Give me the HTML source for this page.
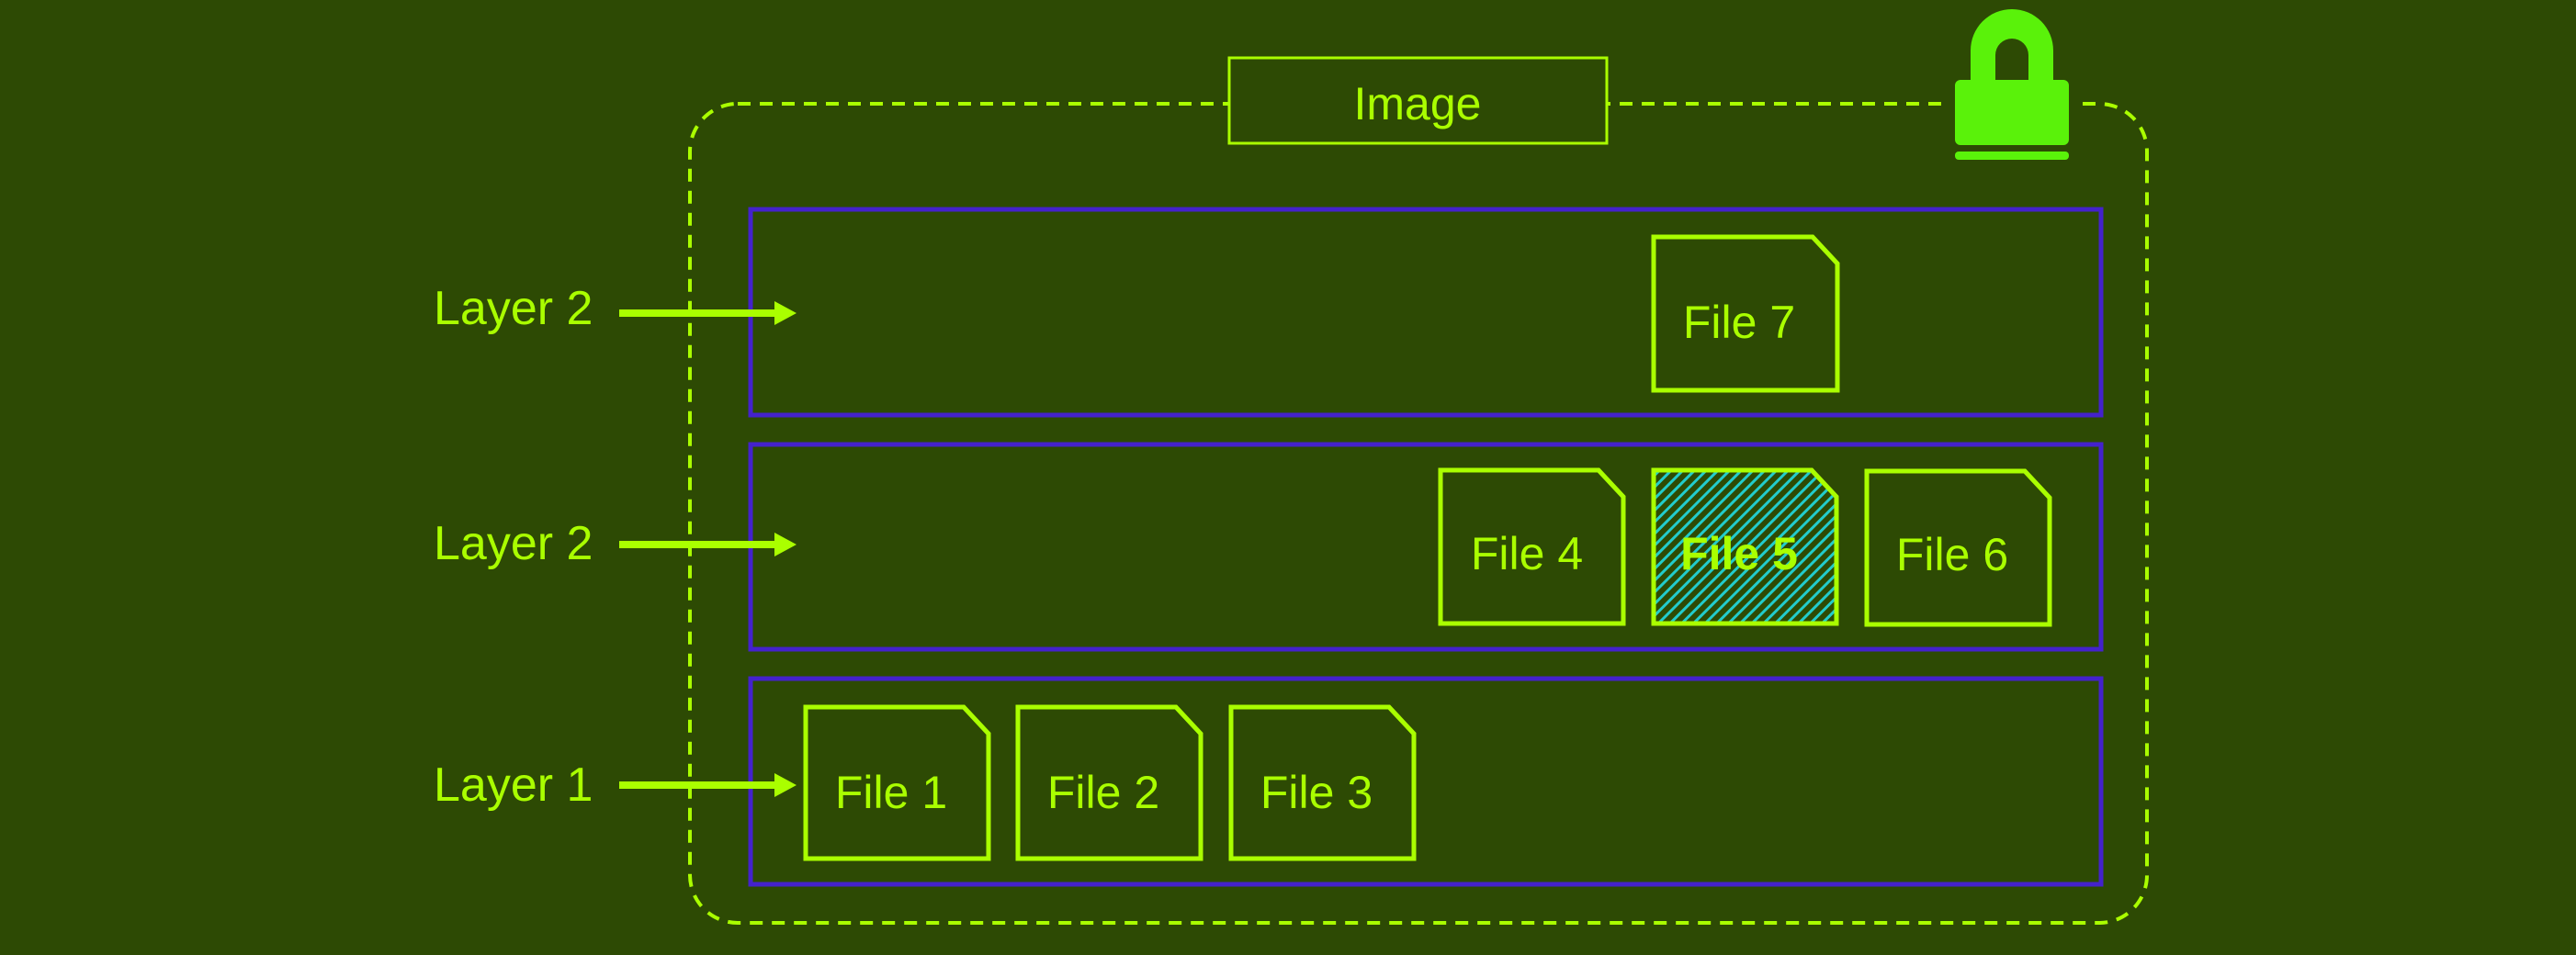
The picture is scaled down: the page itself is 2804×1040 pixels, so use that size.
<!DOCTYPE html>
<html><head><meta charset="utf-8"><style>
html,body{margin:0;padding:0;background:#2d4a04;}
svg{display:block;}
text{font-family:"Liberation Sans","DejaVu Sans",sans-serif;fill:#aaff00;}
</style></head><body>
<svg width="2804" height="1040" viewBox="0 0 2804 1040" xmlns="http://www.w3.org/2000/svg">
<defs>
<pattern id="h" patternUnits="userSpaceOnUse" width="9" height="9" patternTransform="rotate(45)">
<rect width="9" height="9" fill="#2d4a04"/><rect width="3" height="9" fill="#22cccc"/>
</pattern>
</defs>
<rect width="2804" height="1040" fill="#2d4a04"/>
<!-- outer dashed -->
<rect x="751" y="113" width="1586" height="892" rx="52" fill="none" stroke="#aaff00" stroke-width="4" stroke-dasharray="14 10"/>
<!-- image label -->
<rect x="1338" y="63" width="411" height="93" fill="#2d4a04" stroke="#aaff00" stroke-width="3"/>
<text x="1543" y="130" font-size="50" text-anchor="middle">Image</text>
<!-- lock -->
<rect x="2117" y="108" width="146" height="30" fill="#2d4a04"/>
<path d="M2145 88 V55 A45 45 0 0 1 2235 55 V88 H2208 V60 A18 18 0 0 0 2172 60 V88 Z" fill="#5af20a"/>
<rect x="2128" y="87" width="124" height="71" rx="6" fill="#5af20a"/>
<rect x="2128" y="165" width="124" height="9" rx="4" fill="#5af20a"/>
<!-- layers -->
<rect x="817" y="228" width="1470" height="224" fill="none" stroke="#4422cc" stroke-width="5"/>
<rect x="817" y="484" width="1470" height="223" fill="none" stroke="#4422cc" stroke-width="5"/>
<rect x="817" y="739" width="1470" height="224" fill="none" stroke="#4422cc" stroke-width="5"/>
<!-- labels & arrows -->
<g font-size="52">
<text x="472" y="353">Layer 2</text>
<text x="472" y="609">Layer 2</text>
<text x="472" y="872">Layer 1</text>
</g>
<g stroke="#aaff00" stroke-width="8">
<line x1="674" y1="341" x2="848" y2="341"/>
<line x1="674" y1="593" x2="848" y2="593"/>
<line x1="674" y1="855" x2="848" y2="855"/>
</g>
<g fill="#aaff00">
<polygon points="843,328 867,341 843,354"/>
<polygon points="843,580 867,593 843,606"/>
<polygon points="843,842 867,855 843,868"/>
</g>
<!-- files -->
<g stroke="#aaff00" stroke-width="5" fill="none">
<path d="M1800 258 H1973 L2000 287 V425 H1800 Z"/>
<path d="M1568 512 H1740 L1767 541 V679 H1568 Z"/>
<path d="M1800 512 H1972 L1999 541 V679 H1800 Z" fill="url(#h)"/>
<path d="M2032 513 H2204 L2231 542 V680 H2032 Z"/>
<path d="M877 770 H1049 L1076 799 V935 H877 Z"/>
<path d="M1108 770 H1280 L1307 799 V935 H1108 Z"/>
<path d="M1340 770 H1512 L1539 799 V935 H1340 Z"/>
</g>
<g font-size="50" text-anchor="middle">
<text x="1893" y="368">File 7</text>
<text x="1662" y="620">File 4</text>
<text x="1893" y="620" font-weight="bold">File 5</text>
<text x="2125" y="621">File 6</text>
<text x="970" y="880">File 1</text>
<text x="1201" y="880">File 2</text>
<text x="1433" y="880">File 3</text>
</g>
</svg>
</body></html>
